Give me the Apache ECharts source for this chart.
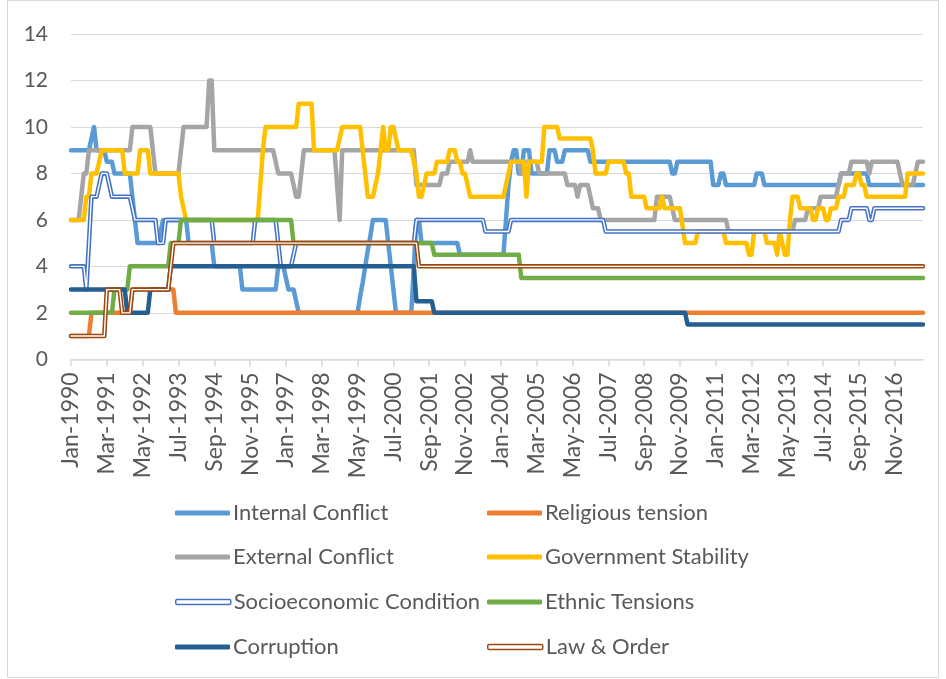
<!DOCTYPE html>
<html>
<head>
<meta charset="utf-8">
<script src="https://cdn.jsdelivr.net/npm/echarts@6/dist/echarts.min.js"></script>
<style>
  html, body { margin: 0; padding: 0; background: #fff; }
  #chart { width: 946px; height: 679px; }
</style>
</head>
<body>
<div id="chart"></div>
<script>
// monthly series, Jan-1990 .. Oct-2017
const N_MONTHS = 334;
const monthAbbr = ["Jan", "Feb", "Mar", "Apr", "May", "Jun", "Jul", "Aug", "Sep", "Oct", "Nov", "Dec"];
const months = [];
for (let i = 0; i < N_MONTHS; i++) {
  months.push(monthAbbr[i % 12] + "-" + (1990 + Math.floor(i / 12)));
}

// each entry: [month index where the value starts, value] - holds until next change
const internalConflict = [[0,9],[8,9.5],[9,10],[10,9],[14,8.5],[17,8],[24,7],[25,6],[26,5],[35,5.5],[36,6],[46,5],[56,4],[67,3],[81,4],[84,3.5],[85,3],[88,2.5],[89,2],[113,2.7],[114,3.3],[115,4],[116,4.7],[117,5.3],[118,6],[124,5],[125,4],[126,3],[127,2],[134,4],[135,6],[137,5],[152,4.5],[170,6],[171,7.5],[172,8.5],[173,9],[175,8],[177,9],[180,8],[187,9],[190,8.5],[193,9],[203,8.5],[235,8],[237,8.5],[251,7.5],[254,8],[256,7.5],[268,8],[271,7.5],[301,8],[312,7.5]];
const religiousTension = [[0,1],[8,2],[24,3],[41,2]];
const externalConflict = [[0,6],[4,7],[5,8],[7,9],[24,10],[32,9],[33,8],[43,9],[44,10],[54,12],[56,9],[80,8.5],[81,8],[87,7.5],[88,7],[90,8],[91,9],[104,7.5],[105,6],[106,9],[135,7.5],[145,8],[148,8.5],[156,9],[157,8.5],[176,8],[177,8.5],[183,8],[194,7.5],[198,7],[199,7.5],[203,7],[204,6.5],[207,6],[229,7],[235,6.5],[236,6],[257,5.5],[283,6],[288,6.5],[293,7],[300,7.5],[301,8],[305,8.5],[312,8],[313,8.5],[324,8],[325,7.5],[330,8],[331,8.5]];
const governmentStability = [[0,6],[6,7],[8,8],[11,8.5],[12,9],[21,8],[27,9],[31,8],[43,7],[44,6.5],[45,6],[74,7.5],[75,9],[76,10],[89,11],[95,9],[105,9.5],[106,10],[114,9],[115,8],[116,7],[119,7.5],[120,8],[121,9],[122,10],[123,9],[125,10],[127,9.5],[128,9],[134,8.5],[135,8],[136,7],[138,7.5],[139,8],[143,8.5],[148,9],[151,8.5],[153,8],[155,7.5],[156,7],[170,7.5],[171,8],[172,8.5],[178,7],[179,8.5],[185,10],[191,9.5],[204,9],[205,8],[210,8.5],[217,8],[219,7],[225,6.5],[231,7],[232,6.5],[239,5.75],[240,5],[245,5.5],[256,5],[265,4.5],[267,5.5],[272,5],[276,4.5],[277,5.5],[278,5],[279,4.5],[281,6],[282,7],[285,6.5],[290,6],[292,6.5],[295,6],[297,6.5],[300,7],[303,7.5],[307,8],[309,7.5],[311,7],[327,8]];
const socioeconomicCondition = [[0,4],[6,3],[7,5],[8,7],[11,7.5],[12,8],[15,7.5],[16,7],[24,6.5],[25,6],[34,5],[37,6],[56,5],[72,6],[81,5],[82,4],[87,4.5],[88,5],[135,6],[162,5.5],[172,6],[209,5.5],[301,6],[305,6.5],[312,6],[314,6.5]];
const ethnicTensions = [[0,2],[17,3],[23,4],[39,5],[43,6],[87,5],[142,4.5],[176,3.5]];
const corruption = [[0,3],[22,2],[31,3],[39,4],[135,2.5],[142,2],[241,1.5]];
const lawAndOrder = [[0,1],[14,3],[20,2],[24,3],[39,4],[40,5],[136,4]];

const yTicks = [0, 2, 4, 6, 8, 10, 12, 14];

function monthly(changes) {
  const out = [];
  let k = 0;
  for (let m = 0; m < N_MONTHS; m++) {
    while (k + 1 < changes.length && changes[k + 1][0] <= m) k++;
    out.push(changes[k][1]);
  }
  return out;
}

const FONT = "Lato";
const TEXT = "#595959";
const GRIDC = "#D9D9D9";
const LW = 4.5;

function line(name, values, color, width) {
  return {
    name: name,
    type: "line",
    data: monthly(values),
    symbol: "none",
    showSymbol: false,
    silent: true,
    animation: false,
    lineStyle: { color: color, width: width, cap: "round", join: "round" },
    itemStyle: { color: color },
  };
}

const series = [
  line("Internal Conflict", internalConflict, "#5B9BD5", LW),
  line("Religious tension", religiousTension, "#ED7D31", LW),
  line("External Conflict", externalConflict, "#A5A5A5", LW),
  line("Government Stability", governmentStability, "#FFC000", LW),
  line("Socioeconomic Condition", socioeconomicCondition, "#4472C4", LW),
  line("Socioeconomic Condition", socioeconomicCondition, "#FFFFFF", 1.4),
  line("Ethnic Tensions", ethnicTensions, "#70AD47", LW),
  line("Corruption", corruption, "#255E91", LW),
  line("Law & Order", lawAndOrder, "#9E480E", LW),
  line("Law & Order", lawAndOrder, "#FFFFFF", 1.4),
];

// legend: two columns, four rows
const legendItems = [
  ["Internal Conflict", 175, 514, { color: "#5B9BD5", borderWidth: 0 }],
  ["Religious tension", 487, 514, { color: "#ED7D31", borderWidth: 0 }],
  ["External Conflict", 175, 558, { color: "#A5A5A5", borderWidth: 0 }],
  ["Government Stability", 487, 558, { color: "#FFC000", borderWidth: 0 }],
  ["Socioeconomic Condition", 175, 603, { color: "#FFFFFF", borderColor: "#4472C4", borderWidth: 1.5 }],
  ["Ethnic Tensions", 487, 603, { color: "#70AD47", borderWidth: 0 }],
  ["Corruption", 175, 648, { color: "#255E91", borderWidth: 0 }],
  ["Law & Order", 487, 648, { color: "#FFFFFF", borderColor: "#9E480E", borderWidth: 1.5 }],
];

const legends = legendItems.map(([name, x, y, style]) => ({
  data: [{ name: name, icon: "roundRect", itemStyle: style }],
  left: x,
  top: y - 12,
  padding: 0,
  itemWidth: 55,
  itemHeight: 5,
  selectedMode: false,
  textStyle: { fontFamily: FONT, fontSize: 22, color: TEXT, padding: [0, 0, 0, -2] },
}));

const chart = echarts.init(document.getElementById("chart"), null, { renderer: "canvas" });

chart.setOption({
  backgroundColor: "#fff",
  animation: false,
  textStyle: { fontFamily: FONT },
  grid: { left: 71, right: 23, top: 34, bottom: 319.7, containLabel: false, outerBoundsMode: "none" },
  xAxis: {
    type: "category",
    data: months,
    boundaryGap: false,
    axisLine: { lineStyle: { color: GRIDC, width: 1.5 } },
    axisTick: { show: true, interval: 13, length: 7, lineStyle: { color: GRIDC, width: 1.5 } },
    axisLabel: {
      interval: 13,
      rotate: 90,
      margin: 13,
      color: TEXT,
      fontFamily: FONT,
      fontSize: 23,
    },
    splitLine: { show: false },
  },
  yAxis: {
    type: "value",
    min: yTicks[0],
    max: yTicks[yTicks.length - 1],
    interval: 2,
    axisLine: { show: false },
    axisTick: { show: false },
    axisLabel: { color: TEXT, fontFamily: FONT, fontSize: 21, margin: 23 },
    splitLine: { lineStyle: { color: GRIDC, width: 1.2 } },
  },
  legend: legends,
  graphic: [
    {
      type: "rect",
      silent: true,
      shape: { x: 7.5, y: 0.5, width: 931, height: 677 },
      style: { fill: "none", stroke: GRIDC, lineWidth: 1 },
    },
  ],
  series: series,
});
</script>
</body>
</html>
